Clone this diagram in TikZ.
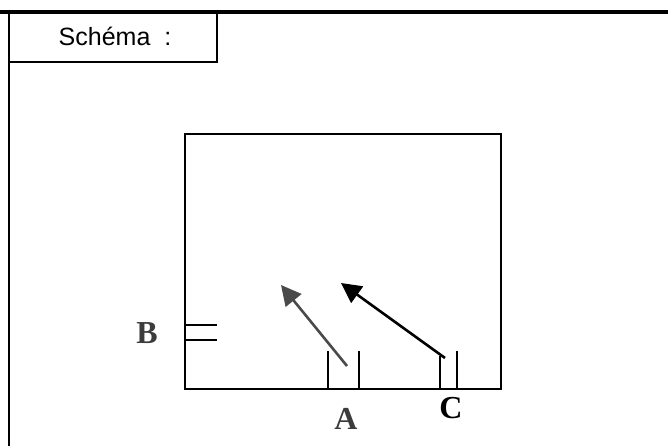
\documentclass[tikz,border=0pt]{standalone}
\usepackage{fontspec}
\setmainfont{Liberation Serif}
\setsansfont{Liberation Sans}
\usetikzlibrary{arrows.meta}
\definecolor{arrgray}{HTML}{4A4A4A}
\definecolor{lblgray}{HTML}{3C3C3C}
\tikzset{
  frameline/.style={line width=1.6pt, black},
  boxline/.style={line width=2.2pt, black},
  tickline/.style={line width=2pt, black},
  lbl/.style={font=\fontsize{32}{34}\selectfont\bfseries, inner sep=0pt},
  vec/.style={line width=2.6pt, -{Triangle[length=20pt,width=20pt]}},
}
\begin{document}
\begin{tikzpicture}[x=1pt,y=-1pt]
\useasboundingbox (0,0) rectangle (668,446);
% frame
\draw[line width=3.5pt] (0,12) -- (668,12);
\draw[frameline] (9,12) -- (9,446);
\draw[frameline] (9,12) rectangle (217,62);
\node[font=\sffamily\fontsize{25}{27}\selectfont, inner sep=0pt] (title) at (115,36) {Schéma\ \ :};
% main box
\draw[boxline] (185,134) rectangle (501,389);
% B plates
\draw[tickline] (185,325) -- (217,325);
\draw[tickline] (185,340) -- (217,340);
\node[lbl, text=lblgray] (B) at (147,333) {B};
% A plates
\draw[tickline] (328,351) -- (328,389);
\draw[tickline] (359,351) -- (359,389);
\node[lbl, text=lblgray] (A) at (346,419) {A};
% C plates
\draw[tickline] (440,356) -- (440,389);
\draw[tickline] (457,351) -- (457,389);
\node[lbl] (C) at (451,408) {C};
% arrows
\coordinate (a0) at (347,366);
\coordinate (a1) at (281,285);
\coordinate (c0) at (445,358);
\coordinate (c1) at (341,283);
\draw[vec, arrgray] (a0) -- (a1);
\draw[vec, black] (c0) -- (c1);
\end{tikzpicture}
\end{document}
